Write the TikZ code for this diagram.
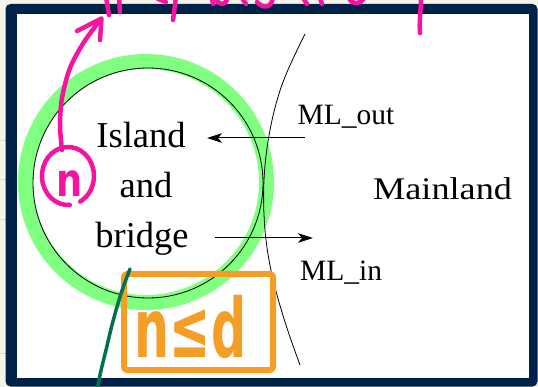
\documentclass[tikz,border=0pt]{standalone}
\usepackage{fontspec}
\setmainfont{Liberation Serif}
\newfontfamily\handfont{DejaVu Sans}
\usetikzlibrary{arrows.meta}
\definecolor{navy}{RGB}{0,34,72}
\definecolor{ringgreen}{RGB}{128,255,128}
\definecolor{pinkink}{RGB}{245,20,160}
\definecolor{orangeink}{RGB}{244,158,40}
\definecolor{greenink}{RGB}{0,112,80}
\definecolor{paper}{RGB}{246,244,234}
\definecolor{gridline}{RGB}{215,213,205}
\begin{document}
\begin{tikzpicture}[x=1pt,y=-1pt,
  lbl/.style={inner sep=0pt, anchor=base west, font=\fontsize{29.5}{34}\selectfont},
  islandtxt/.style={inner sep=0pt, anchor=base, font=\fontsize{36.5}{44}\selectfont},
  arr/.style={line width=1pt, -{Stealth[length=15pt,width=9.5pt,inset=4pt]}},
  pinkstroke/.style={draw=pinkink, line width=4.5pt, line cap=round, line join=round},
  orangestroke/.style={draw=orangeink, line width=6pt, line join=round, rounded corners=3pt},
  greenstroke/.style={draw=greenink, line width=3.5pt, line cap=round}]
\useasboundingbox (0,0) rectangle (538,387);
\clip (0,0) rectangle (538,387);
% paper background and frame
\fill[paper] (0,0) rectangle (538,387);
\foreach \yy in {140,179,219,353} \draw[gridline, line width=0.6pt] (0,\yy) -- (6,\yy);
\fill[navy, rounded corners=5pt] (5.5,4) rectangle (537.5,386.5);
\fill[white] (16.5,14.5) rectangle (529,377.5);
% island ring
\draw[ringgreen, line width=15pt] (146,182) circle[radius=120.5];
\draw[black, line width=0.8pt] (148,183) circle[radius=115];
% mainland boundary
\draw[black, line width=0.8pt] plot[smooth, tension=0.6] coordinates {(305,34) (283,82) (270,130) (264,180) (265,230) (272,275) (285,322) (300,365)};
% arrows
\coordinate (outS) at (305,138);
\coordinate (outE) at (207,138);
\coordinate (inS) at (215,238);
\coordinate (inE) at (313,238);
\draw[arr] (outS) -- (outE);
\draw[arr] (inS) -- (inE);
% labels
\node[lbl] (mlout) at (297.5,125) {ML\_out};
\node[lbl] (mlin) at (300,280) {ML\_in};
\node[inner sep=0pt, anchor=base west, font=\fontsize{31.5}{36}\selectfont] (mainland) at (373,200) {\scalebox{1.15}[1]{Mainland}};
\node[islandtxt] (island) at (141,148) {Island};
\node[islandtxt] (and) at (146,198) {and};
\node[islandtxt] (bridge) at (142,248) {bridge};
% orange annotation box
\draw[orangestroke] (124,274) rectangle (273,370);
\node[inner sep=0pt, anchor=base, text=orangeink, font=\handfont\bfseries\fontsize{82}{90}\selectfont] (nled) at (190.5,357) {\scalebox{0.6}[1]{n≤d}};
% pink annotations
\draw[pinkstroke] (69.8,204.9) arc[start angle=86, end angle=422, x radius=26, y radius=29];
\node[inner sep=0pt, text=pinkink, font=\handfont\bfseries\fontsize{46}{52}\selectfont] (pinkn) at (70,183.5) {\scalebox{0.8}[1]{n}};
\draw[pinkstroke] plot[smooth] coordinates {(62,150) (60,125) (62,98) (70,68) (84,42) (101,19)};
\draw[pinkstroke] (77,31) -- (101.5,18.5) -- (100,40);
% pink scribbles cut off at the top
\draw[pinkstroke] (106,-3) -- (109,15);
\draw[pinkstroke] (119,-3) -- (120,12);
\draw[pinkstroke] (158,-1) -- (166,2);
\draw[pinkstroke] (176,-3) -- (173,20);
\draw[pinkstroke] (212,-2) -- (213,4);
\draw[pinkstroke] (217,1) .. controls (220,5) and (225,5) .. (227,0);
\draw[pinkstroke] (242,-2) -- (246,4);
\draw[pinkstroke] (257,2) .. controls (263,9) and (271,8) .. (273,-2);
\draw[pinkstroke] (303,-2) -- (307,4);
\draw[pinkstroke] (320,-2) -- (322,4);
\draw[pinkstroke] (349,-2) .. controls (352,5) and (360,5) .. (364,-2);
\draw[pinkstroke] (421,-3) .. controls (421,10) and (419,22) .. (420,33);
% dark green stroke
\draw[greenstroke] plot[smooth] coordinates {(130,269) (124,285) (119,300) (112,325) (106,350) (100,375) (97,392)};
\end{tikzpicture}
\end{document}
